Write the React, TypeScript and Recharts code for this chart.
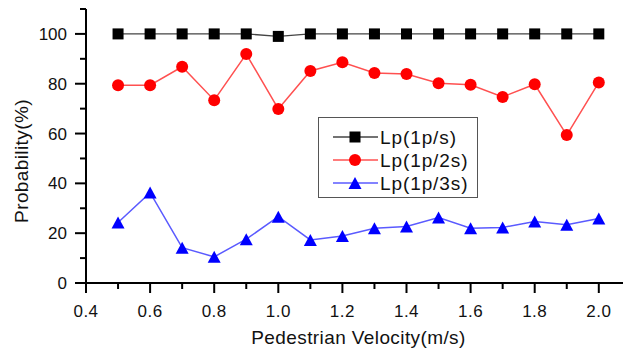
import { LineChart, Line, XAxis, YAxis, Legend, Label } from 'recharts'

const velocities = [0.5, 0.6, 0.7, 0.8, 0.9, 1.0, 1.1, 1.2, 1.3, 1.4, 1.5, 1.6, 1.7, 1.8, 1.9, 2.0]
const lp1 = [100, 100, 100, 100, 100, 99, 100, 100, 100, 100, 100, 100, 100, 100, 100, 100]
const lp2 = [79.4, 79.4, 86.8, 73.4, 91.9, 69.9, 85.1, 88.6, 84.3, 83.9, 80.2, 79.6, 74.7, 79.8, 59.4, 80.5]
const lp3 = [24.3, 36.3, 14.2, 10.5, 17.6, 26.6, 17.3, 18.9, 22.0, 22.7, 26.3, 22.0, 22.3, 24.7, 23.4, 25.9]

const xTicks = [0.4, 0.5, 0.6, 0.7, 0.8, 0.9, 1.0, 1.1, 1.2, 1.3, 1.4, 1.5, 1.6, 1.7, 1.8, 1.9, 2.0]
const yTicks = [0, 10, 20, 30, 40, 50, 60, 70, 80, 90, 100, 110]

const seriesNames = ['Lp(1p/s)', 'Lp(1p/2s)', 'Lp(1p/3s)']

const data = velocities.map((v, i) => ({ v, lp1: lp1[i], lp2: lp2[i], lp3: lp3[i] }))

const FONT = "'Liberation Sans', Arial, sans-serif"

function Square({ cx, cy }: { cx?: number; cy?: number }) {
  if (cx == null || cy == null) return null
  return <rect x={cx - 5.5} y={cy - 5.5} width={11} height={11} fill="#000" />
}

function Circle({ cx, cy }: { cx?: number; cy?: number }) {
  if (cx == null || cy == null) return null
  return <circle cx={cx} cy={cy} r={6} fill="#ff0000" />
}

function Triangle({ cx, cy }: { cx?: number; cy?: number }) {
  if (cx == null || cy == null) return null
  return (
    <polygon
      points={`${cx},${cy - 6} ${cx - 6.5},${cy + 6} ${cx + 6.5},${cy + 6}`}
      fill="#0000ff"
    />
  )
}

function XTick(props: any) {
  const { x, y, payload } = props
  const major = Math.round(payload.value * 10) % 2 === 0
  return (
    <g>
      <line x1={x} x2={x} y1={y} y2={y + (major ? 10 : 6)} stroke="#000" strokeWidth={2} />
      {major && (
        <text x={x} y={y + 34} textAnchor="middle" fontSize={17} letterSpacing={0.5} fontFamily={FONT} fill="#111">
          {payload.value.toFixed(1)}
        </text>
      )}
    </g>
  )
}

function YTick(props: any) {
  const { x, y, payload } = props
  const major = payload.value % 20 === 0
  return (
    <g>
      <line x1={x - (major ? 11 : 6)} x2={x} y1={y} y2={y} stroke="#000" strokeWidth={2} />
      {major && (
        <text x={x - 19} y={y + 6} textAnchor="end" fontSize={17} fontFamily={FONT} fill="#111">
          {payload.value}
        </text>
      )}
    </g>
  )
}

function LegendBox() {
  const rows = [
    { color: '#444', marker: <Square cx={37} cy={20} /> },
    { color: '#ff5050', marker: <Circle cx={37} cy={43} /> },
    { color: '#5a5aff', marker: <Triangle cx={37} cy={66} /> },
  ]
  return (
    <svg width={160} height={81}>
      <rect x={0.5} y={0.5} width={159} height={80} fill="#fff" stroke="#555" strokeWidth={1} />
      {rows.map((r, i) => {
        const cy = 20 + i * 23
        return (
          <g key={i}>
            <line x1={15} x2={60} y1={cy} y2={cy} stroke={r.color} strokeWidth={1.5} />
            {r.marker}
            <text x={62} y={cy + 7} fontSize={19} letterSpacing={0.9} fontFamily={FONT} fill="#111">
              {seriesNames[i]}
            </text>
          </g>
        )
      })}
    </svg>
  )
}

export default function App() {
  return (
    <div style={{ position: 'absolute', left: 0, top: 0, background: '#fff' }}>
      <LineChart width={623} height={351} data={data} margin={{ top: 9, right: 0, left: 0, bottom: 0 }}>
        <XAxis
          dataKey="v"
          type="number"
          domain={[0.4, 2.0755]}
          ticks={xTicks}
          height={68}
          axisLine={{ stroke: '#000', strokeWidth: 2 }}
          tickLine={false}
          tickSize={0}
          tickMargin={0}
          tick={<XTick />}
          interval={0}
        >
          <Label
            value="Pedestrian Velocity(m/s)"
            position="insideBottom"
            offset={7}
            dx={4}
            fontSize={19}
            letterSpacing={0.4}
            fontFamily={FONT}
            fill="#111"
          />
        </XAxis>
        <YAxis
          type="number"
          domain={[0, 110]}
          ticks={yTicks}
          width={86}
          axisLine={{ stroke: '#000', strokeWidth: 2 }}
          tickLine={false}
          tickSize={0}
          tickMargin={0}
          tick={<YTick />}
          interval={0}
        >
          <Label
            content={() => (
              <text
                x={28}
                y={161}
                transform="rotate(-90, 28, 161)"
                textAnchor="middle"
                fontSize={19}
                letterSpacing={0.4}
                fontFamily={FONT}
                fill="#111"
              >
                Probability(%)
              </text>
            )}
          />
        </YAxis>
        <Legend
          layout="vertical"
          align="center"
          verticalAlign="middle"
          wrapperStyle={{ left: 318, top: 117, width: 160, height: 81 }}
          content={() => <LegendBox />}
        />
        <Line
          dataKey="lp1"
          name={seriesNames[0]}
          stroke="#444"
          strokeWidth={1.3}
          dot={(p: any) => <Square key={`s${p.index}`} cx={p.cx} cy={p.cy} />}
          isAnimationActive={false}
        />
        <Line
          dataKey="lp2"
          name={seriesNames[1]}
          stroke="#ff5050"
          strokeWidth={1.5}
          dot={(p: any) => <Circle key={`c${p.index}`} cx={p.cx} cy={p.cy} />}
          isAnimationActive={false}
        />
        <Line
          dataKey="lp3"
          name={seriesNames[2]}
          stroke="#5a5aff"
          strokeWidth={1.5}
          dot={(p: any) => <Triangle key={`t${p.index}`} cx={p.cx} cy={p.cy} />}
          isAnimationActive={false}
        />
      </LineChart>
    </div>
  )
}
